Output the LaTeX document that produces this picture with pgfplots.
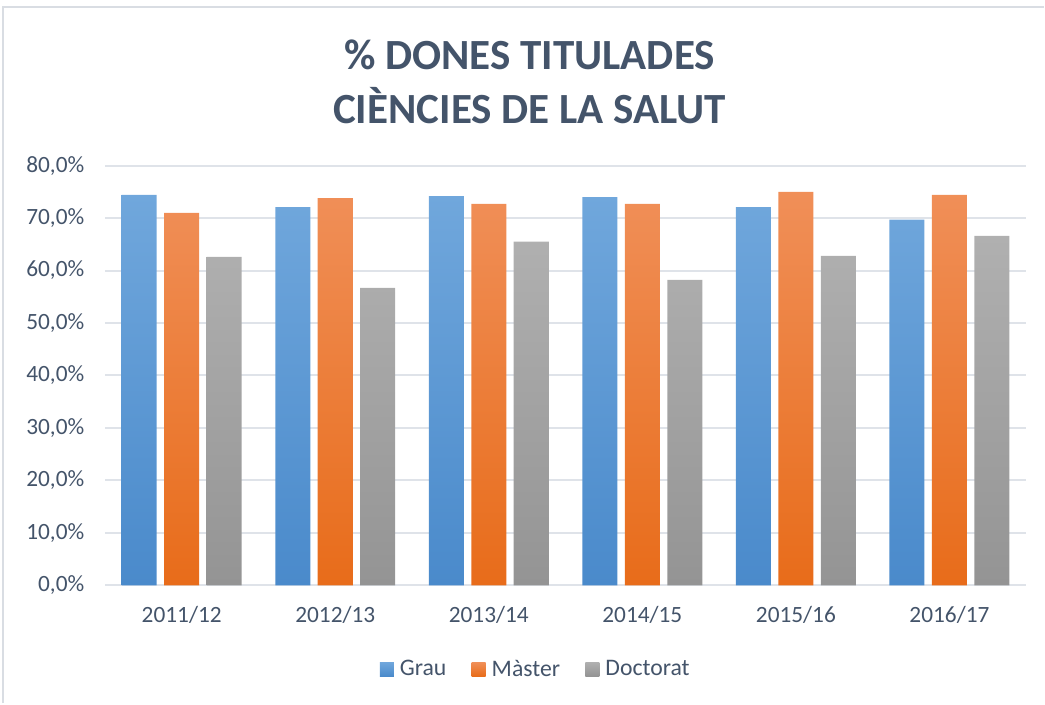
\documentclass[border=0pt]{standalone}
\usepackage{pgfplots}
\pgfplotsset{compat=1.18}
\usepackage{fontspec}
\setmainfont{Carlito}
\definecolor{txt}{HTML}{44546A}
\definecolor{gridc}{HTML}{DFE3E9}
\definecolor{frame}{HTML}{D9DDE3}
\definecolor{bluet}{HTML}{70A7DC}
\definecolor{blueb}{HTML}{4A8ACB}
\definecolor{oranget}{HTML}{F08F58}
\definecolor{orangeb}{HTML}{E86C1A}
\definecolor{grayt}{HTML}{B0B0B0}
\definecolor{grayb}{HTML}{949494}
\begin{document}
\begin{tikzpicture}
\path (0,0) rectangle (783.75pt,528pt);
\draw[frame, line width=1.2pt] (2.25pt,0pt) -- (2.25pt,522.75pt) -- (783.75pt,522.75pt);
\node[txt, font=\fontsize{32.3}{38}\selectfont\bfseries] at (397.5pt,486.5pt) {\% DONES TITULADES};
\node[txt, font=\fontsize{32.3}{38}\selectfont\bfseries] at (397.5pt,448.5pt) {CIÈNCIES DE LA SALUT};
\begin{axis}[
  at={(78.75pt,88.7pt)}, anchor=south west,
  scale only axis, width=691.5pt, height=315pt,
  xmin=-0.5, xmax=5.5, ymin=0, ymax=80,
  axis line style={draw=none},
  tick style={draw=none},
  ymajorgrids, grid style={gridc, line width=1.5pt},
  xtick={0,1,2,3,4,5},
  xticklabels={2011/12,2012/13,2013/14,2014/15,2015/16,2016/17},
  ytick={0,10,20,30,40,50,60,70,80},
  yticklabels={{0,0\%},{10,0\%},{20,0\%},{30,0\%},{40,0\%},{50,0\%},{60,0\%},{70,0\%},{80,0\%}},
  ticklabel style={txt, font=\fontsize{17.5}{20}\selectfont},
  yticklabel style={anchor=east, xshift=-12pt},
  xticklabel style={anchor=north, yshift=-12.5pt},
  bar width=0.228,
  legend columns=3,
  legend style={at={(0.468,-0.2),}, anchor=center, draw=none, fill=none,
    font=\fontsize{17.8}{20}\selectfont, text=txt,
    /tikz/every odd column/.append style={column sep=2.5pt},
    /tikz/every even column/.append style={column sep=17pt}},
  legend image code/.code={\path[#1, draw=none] (0pt,-5.25pt) rectangle (10.5pt,5.25pt);},
]
\addplot[ybar, bar shift=-0.2765, draw=none, top color=bluet, bottom color=blueb]
  coordinates {(0,74.4) (1,72.1) (2,74.2) (3,74.0) (4,72.1) (5,69.7)};
\addplot[ybar, bar shift=0, draw=none, top color=oranget, bottom color=orangeb]
  coordinates {(0,71.0) (1,73.8) (2,72.7) (3,72.7) (4,75.0) (5,74.4)};
\addplot[ybar, bar shift=0.2765, draw=none, top color=grayt, bottom color=grayb]
  coordinates {(0,62.6) (1,56.7) (2,65.5) (3,58.2) (4,62.8) (5,66.6)};
\legend{Grau,Màster,Doctorat}
\end{axis}
\end{tikzpicture}
\end{document}
